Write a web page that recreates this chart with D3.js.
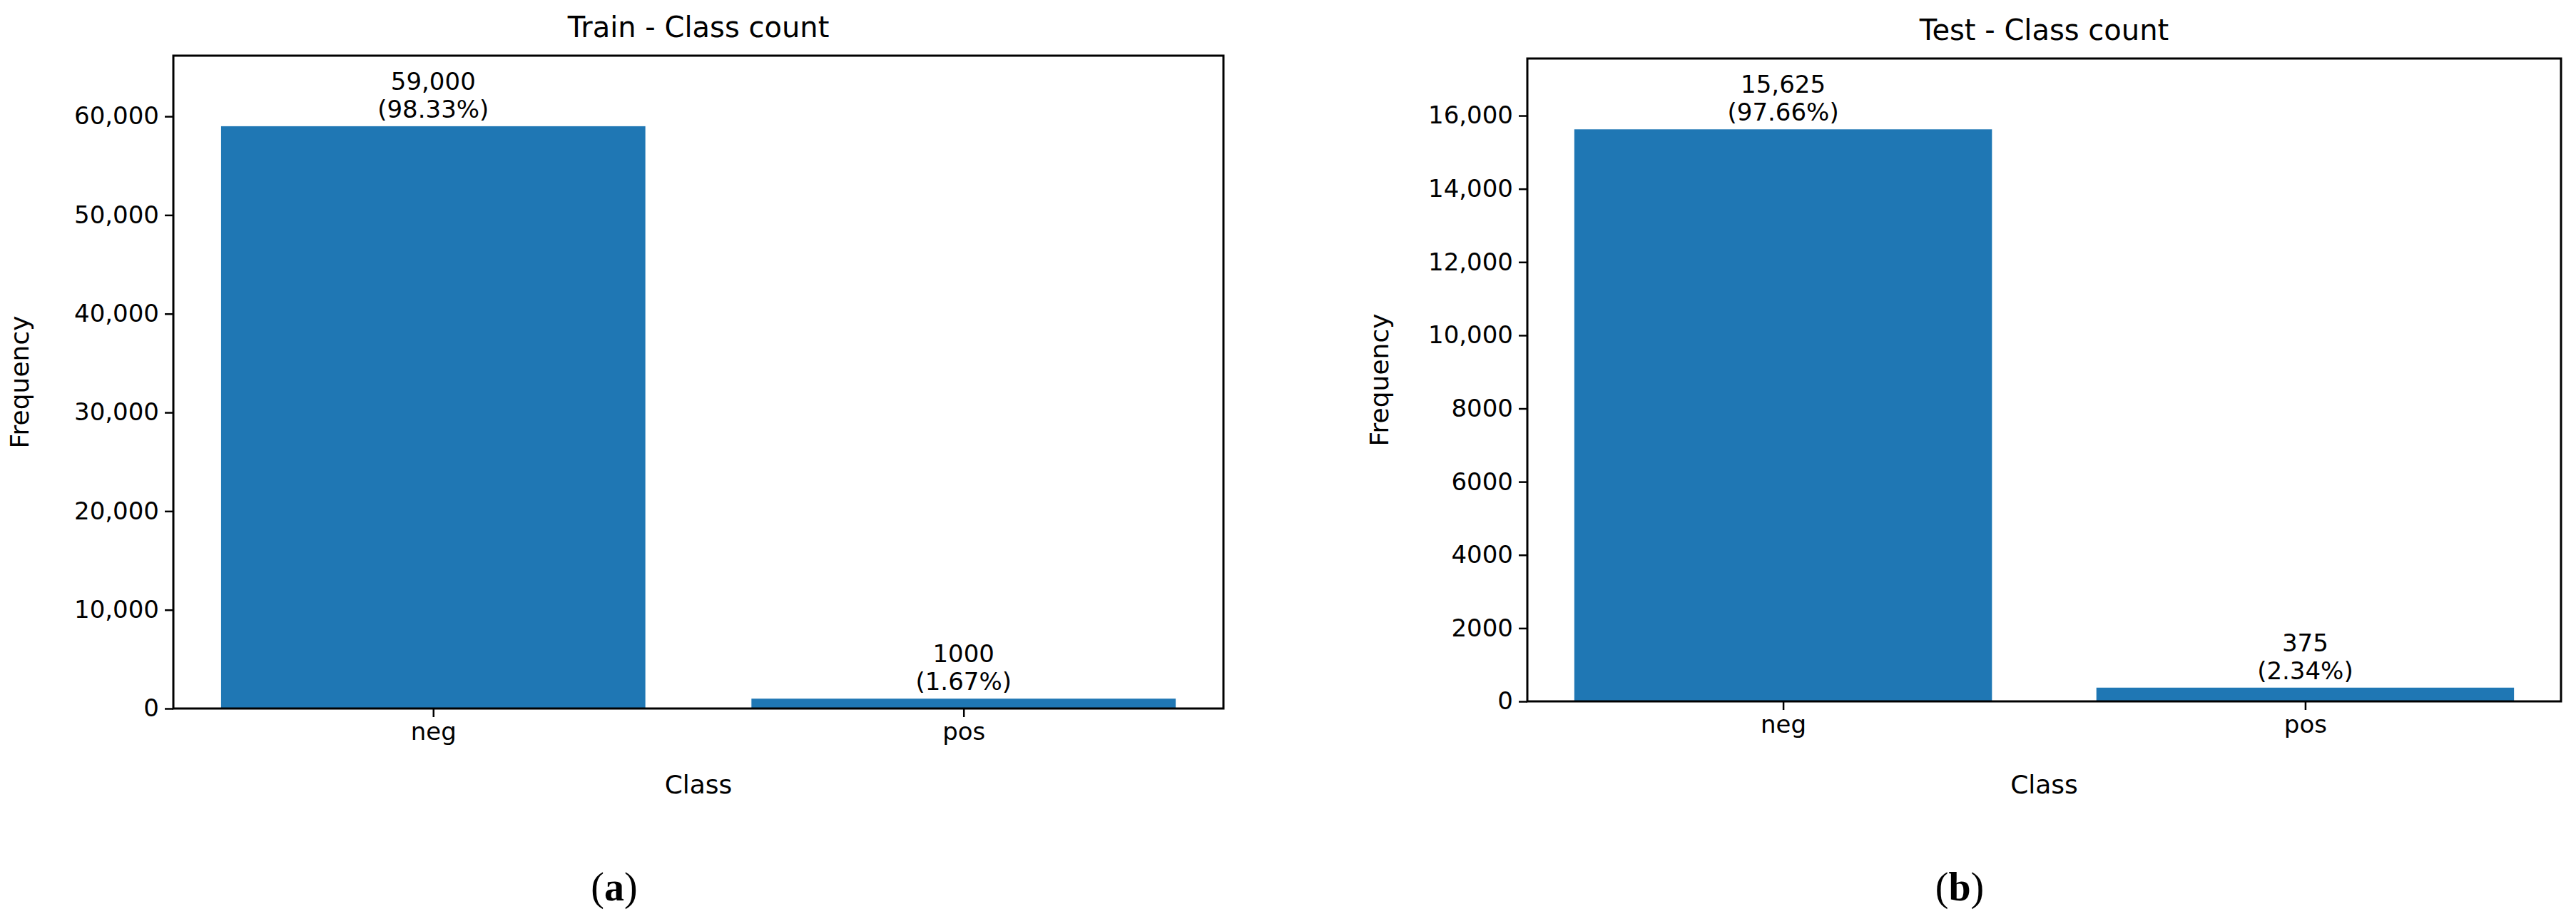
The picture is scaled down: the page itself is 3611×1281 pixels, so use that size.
<!DOCTYPE html>
<html>
<head>
<meta charset="utf-8">
<script src="https://cdn.jsdelivr.net/npm/d3@7"></script>
<style>
  body { margin: 0; background: #fff; }
  text { font-family: "DejaVu Sans", sans-serif; fill: #000; }
</style>
</head>
<body>
<script>
// data
const classes = ["neg", "pos"];
const trainCounts = [59000, 1000];
const trainPct = ["98.33%", "1.67%"];
const testCounts = [15625, 375];
const testPct = ["97.66%", "2.34%"];
const trainTicks = [0, 10000, 20000, 30000, 40000, 50000, 60000];
const testTicks = [0, 2000, 4000, 6000, 8000, 10000, 12000, 14000, 16000];

const svg = d3.select("body").append("svg")
    .attr("width", 3611).attr("height", 1281);

const fmt = v => v >= 10000 ? d3.format(",")(v) : String(v);

function panel(o) {
    let x = d3.scaleLinear().domain([-0.49, 1.49]).range([o.left, o.right]);
    let y = d3.scaleLinear().domain([0, o.ymax]).range([o.bottom, o.top]);
    let g = svg.append("g");
    let bw = (x(1) - x(0)) * 0.8;

    g.selectAll("rect").data(o.counts).enter().append("rect")
        .attr("x", (d, i) => x(i) - bw / 2)
        .attr("y", d => y(d))
        .attr("width", bw)
        .attr("height", d => y(0) - y(d))
        .attr("fill", "#1f77b4");

    g.selectAll(".lab").data(o.counts).enter().append("text")
        .attr("text-anchor", "middle")
        .attr("font-size", 34)
        .attr("x", (d, i) => x(i))
        .attr("y", d => y(d) - 12)
        .each(function(d, i) {
            d3.select(this).append("tspan").attr("x", x(i)).attr("dy", "-1.15em").text(fmt(d));
            d3.select(this).append("tspan").attr("x", x(i)).attr("dy", "1.15em").text("(" + o.pct[i] + ")");
        });

    let ya = g.append("g").attr("transform", `translate(${o.left},0)`)
        .call(d3.axisLeft(y).tickValues(o.ticks).tickFormat(fmt).tickSize(12).tickPadding(8));
    let xa = g.append("g").attr("transform", `translate(0,${o.bottom})`)
        .call(d3.axisBottom(x).tickValues([0, 1]).tickFormat(i => classes[i]).tickSize(12).tickPadding(8));
    [ya, xa].forEach(a => {
        a.selectAll("text").attr("font-size", 34).style("font-family", "DejaVu Sans");
        a.selectAll("line").attr("stroke-width", 2.5);
        a.select(".domain").remove();
    });

    g.append("rect").attr("x", o.left).attr("y", o.top)
        .attr("width", o.right - o.left).attr("height", o.bottom - o.top)
        .attr("fill", "none").attr("stroke", "#000").attr("stroke-width", 3);

    let cx = (o.left + o.right) / 2;
    g.append("text").attr("x", cx).attr("y", o.top - 26).attr("text-anchor", "middle")
        .attr("font-size", 40).text(o.title);
    g.append("text").attr("x", cx).attr("y", 1112).attr("text-anchor", "middle")
        .attr("font-size", 36).text("Class");
    g.append("text").attr("transform", `translate(${o.ylabX},${(o.top + o.bottom) / 2}) rotate(-90)`)
        .attr("text-anchor", "middle").attr("font-size", 36).text("Frequency");
    g.append("text").attr("x", o.capX).attr("y", 1262).attr("text-anchor", "middle")
        .attr("font-size", 56).style("font-family", "Liberation Serif, serif")
        .html('(<tspan font-weight="bold">' + o.cap + '</tspan>)');
}

panel({left: 243, right: 1715, top: 78, bottom: 993, ymax: 66150,
       counts: trainCounts, pct: trainPct, ticks: trainTicks,
       title: "Train - Class count", ylabX: 40, capX: 861, cap: "a"});
panel({left: 2141, right: 3590, top: 82, bottom: 983, ymax: 17560,
       counts: testCounts, pct: testPct, ticks: testTicks,
       title: "Test - Class count", ylabX: 1946, capX: 2747, cap: "b"});
</script>
</body>
</html>
